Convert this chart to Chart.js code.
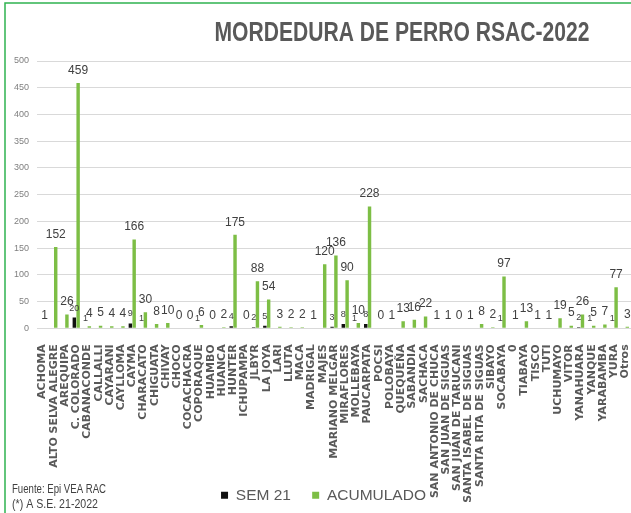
<!DOCTYPE html>
<html>
<head>
<meta charset="utf-8">
<title>Mordedura de perro RSAC-2022</title>
<script src="https://cdn.jsdelivr.net/npm/chart.js@4.4.1/dist/chart.umd.min.js"></script>
<style>
  html, body { margin: 0; padding: 0; background: #ffffff; overflow: hidden; }
  #wrap { width: 631px; height: 513px; position: relative; }
</style>
</head>
<body>
<div id="wrap"><canvas id="chart" width="631" height="513"></canvas></div>
<script>
// Districts reported
const categories = [
  'ACHOMA', 'ALTO SELVA ALEGRE', 'AREQUIPA', 'C. COLORADO', 'CABANACONDE', 'CALLALLI',
  'CAYARANI', 'CAYLLOMA', 'CAYMA', 'CHARACATO', 'CHIGUATA', 'CHIVAY', 'CHOCO',
  'COCACHACRA', 'COPORAQUE', 'HUAMBO', 'HUANCA', 'HUNTER', 'ICHUPAMPA', 'JLBYR',
  'LA JOYA', 'LARI', 'LLUTA', 'MACA', 'MADRIGAL', 'MAJES', 'MARIANO MELGAR',
  'MIRAFLORES', 'MOLLEBAYA', 'PAUCARPATA', 'POCSI', 'POLOBAYA', 'QUEQUEÑA', 'SABANDIA',
  'SACHACA', 'SAN ANTONIO DE CHUCA', 'SAN JUAN DE SIGUAS', 'SAN JUAN DE TARUCANI',
  'SANTA ISABEL DE SIGUAS', 'SANTA RITA DE SIGUAS', 'SIBAYO', 'SOCABAYA', '0',
  'TIABAYA', 'TISCO', 'TUTI', 'UCHUMAYO', 'VITOR', 'YANAHUARA', 'YANQUE', 'YARABAMBA',
  'YURA', 'Otros'
];

// Cases in epidemiological week 21 (blank where none were reported)
const sem21 = [
  null, null, null, 20, 1, null,
  null, null, 9, 1, null, null, null,
  null, 1, null, null, 4, null, 2,
  5, null, null, null, null, null, 3,
  8, 1, 8, null, null, null, null,
  null, null, null, null,
  null, null, null, 1, null,
  null, null, null, null, null, 2, 1, null,
  1, null
];

// Cumulative cases up to week 21
const acumulado = [
  1, 152, 26, 459, 4, 5,
  4, 4, 166, 30, 8, 10, 0,
  0, 6, 0, 2, 175, 0, 88,
  54, 3, 2, 2, 1, 120, 136,
  90, 10, 228, 0, 1, 13, 16,
  22, 1, 1, 0,
  1, 8, 2, 97, 1,
  13, 1, 1, 19, 5, 26, 5, 7,
  77, 3
];

const seriesNames = ['SEM 21', 'ACUMULADO'];
const yMax = 500;
const yStep = 50;

const TITLE = 'MORDEDURA DE PERRO RSAC-2022';
const FOOTNOTE = ['Fuente: Epi VEA RAC', '(*) A S.E. 21-2022'];

const SANS = "'Liberation Sans', Arial, sans-serif";
const GREEN = '#7DBE45';
const BLACK = '#111111';

// Draws text squeezed horizontally to a given width (condensed look)
function condensedText(ctx, text, x, y, width, align) {
  const natural = ctx.measureText(text).width;
  const sx = Math.min(1, width / natural);
  ctx.save();
  ctx.translate(x, y);
  ctx.scale(sx, 1);
  ctx.textAlign = align;
  ctx.fillText(text, 0, 0);
  ctx.restore();
}

// Frame, title and source note drawn on the canvas around the plot
const decorations = {
  id: 'decorations',
  beforeDraw(chart) {
    const ctx = chart.ctx;
    ctx.save();
    ctx.fillStyle = '#ffffff';
    ctx.fillRect(0, 0, chart.width, chart.height);
    ctx.strokeStyle = '#2FB350';
    ctx.lineWidth = 1.5;
    ctx.beginPath();
    ctx.moveTo(5, chart.height);
    ctx.lineTo(5, 3);
    ctx.lineTo(chart.width, 3);
    ctx.stroke();
    ctx.restore();
  },
  afterDraw(chart) {
    const ctx = chart.ctx;
    ctx.save();
    ctx.textBaseline = 'middle';
    ctx.fillStyle = '#595959';
    ctx.font = 'bold 27px ' + SANS;
    condensedText(ctx, TITLE, 402, 34, 375, 'center');

    ctx.fillStyle = '#404040';
    ctx.font = '12px ' + SANS;
    condensedText(ctx, FOOTNOTE[0], 12, 490, 94, 'left');
    condensedText(ctx, FOOTNOTE[1], 12, 504.5, 86, 'left');
    ctx.restore();
  }
};

// Lets the long district names use the space beside the legend, and centres the legend
const layoutTweaks = {
  id: 'layoutTweaks',
  afterLayout(chart) {
    const x = chart.scales.x;
    x.bottom = chart.height;
    x.height = x.bottom - x.top;
    const lg = chart.legend;
    lg.left += 8;
    lg.right += 8;
  }
};

// Value labels above each bar
const valueLabels = {
  id: 'valueLabels',
  afterDatasetsDraw(chart) {
    const ctx = chart.ctx;
    ctx.save();
    ctx.textAlign = 'center';
    ctx.textBaseline = 'middle';
    ctx.fillStyle = '#404040';
    chart.data.datasets.forEach((ds, di) => {
      const meta = chart.getDatasetMeta(di);
      if (meta.hidden) return;
      meta.data.forEach((bar, i) => {
        const v = ds.data[i];
        if (v === null || v === undefined) return;
        if (di === 0) {
          ctx.font = '9px ' + SANS;
          ctx.fillText(String(v), bar.x, bar.y - 9.5);
        } else {
          ctx.font = '12px ' + SANS;
          ctx.fillText(String(v), bar.x, bar.y - 12.5);
        }
      });
    });
    ctx.restore();
  }
};

new Chart(document.getElementById('chart'), {
  type: 'bar',
  data: {
    labels: categories,
    datasets: [
      {
        label: seriesNames[0],
        data: sem21,
        backgroundColor: BLACK,
        borderWidth: 0,
        categoryPercentage: 0.68,
        barPercentage: 0.9
      },
      {
        label: seriesNames[1],
        data: acumulado,
        backgroundColor: GREEN,
        borderWidth: 0,
        categoryPercentage: 0.68,
        barPercentage: 0.9
      }
    ]
  },
  options: {
    responsive: false,
    animation: false,
    devicePixelRatio: 1,
    layout: { padding: { top: 61, left: 0, right: 0, bottom: 0 } },
    plugins: {
      title: { display: false },
      tooltip: { enabled: false },
      legend: {
        display: true,
        position: 'bottom',
        labels: {
          boxWidth: 7,
          boxHeight: 7,
          padding: 21.25,
          color: '#595959',
          font: { family: SANS, size: 15.5 }
        }
      }
    },
    scales: {
      x: {
        offset: true,
        grid: { display: false },
        border: { display: false },
        ticks: {
          autoSkip: false,
          minRotation: 90,
          maxRotation: 90,
          padding: 8,
          color: '#595959',
          font: { family: "'DejaVu Sans', Verdana, sans-serif", weight: 'bold', size: 11 }
        },
        afterFit(scale) {
          scale.height = 137.95;
          scale.paddingLeft = 0;
          scale.paddingRight = 0;
        }
      },
      y: {
        min: 0,
        max: yMax,
        ticks: {
          stepSize: yStep,
          padding: 8,
          color: '#7f7f7f',
          font: { family: SANS, size: 9 }
        },
        grid: { color: '#d9d9d9', lineWidth: 1, drawTicks: false },
        border: { display: false },
        afterFit(scale) {
          scale.width = 37;
        }
      }
    }
  },
  plugins: [decorations, layoutTweaks, valueLabels]
});
</script>
</body>
</html>
